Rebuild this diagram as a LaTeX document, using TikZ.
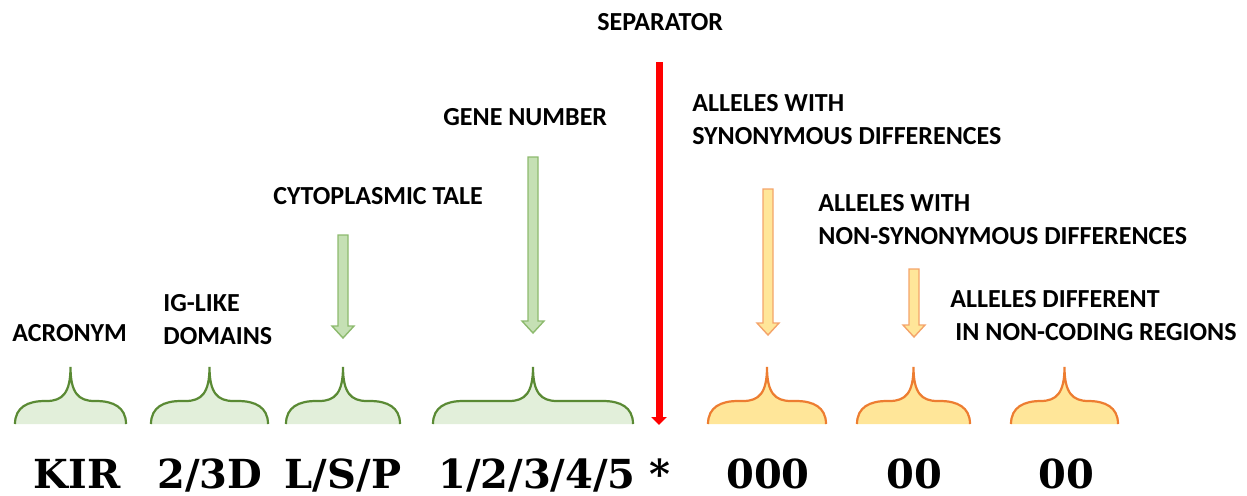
\documentclass[tikz,border=0pt]{standalone}
\usepackage{fontspec}
\setmainfont{Carlito}
\newfontfamily\codefont{DejaVu Serif}
\usepackage{xcolor}
\usetikzlibrary{calc,arrows.meta}

\definecolor{leafline}{HTML}{5A8A34}
\definecolor{leaffill}{HTML}{E2EFDA}
\definecolor{leafarrow}{HTML}{C5E0B4}
\definecolor{leafedge}{HTML}{8DBA6E}
\definecolor{sunline}{HTML}{ED7D31}
\definecolor{sunfill}{HTML}{FFE699}
\definecolor{sunedge}{HTML}{F4A46A}

\tikzset{
  lbl/.style={font=\bfseries\fontsize{13}{16.5}\selectfont, align=left, anchor=west, inner sep=0pt},
  code/.style={font=\codefont\bfseries\fontsize{20}{24}\selectfont, anchor=base, inner sep=0pt},
  leafhump/.style={fill=leaffill, draw=leafline, line width=1.1pt},
  sunhump/.style={fill=sunfill, draw=sunline, line width=1.1pt},
  leafpointer/.style={fill=leafarrow, draw=leafedge, line width=0.7pt, line join=miter},
  sunpointer/.style={fill=sunfill, draw=sunedge, line width=0.7pt, line join=miter},
  pics/hump/.style={code={
    \path[pic actions] (-#1,0) .. controls (-#1,-17) and (-#1+13,-23) .. (-#1+30,-23)
      -- (-24,-23) .. controls (-8,-23) and (0,-31) .. (0,-57)
      .. controls (0,-31) and (8,-23) .. (24,-23)
      -- (#1-30,-23) .. controls (#1-13,-23) and (#1,-17) .. (#1,0);
  }},
}

% block arrow pointing down: style, top, tip
\newcommand{\blockarrow}[3]{%
  \path[#1] let \p1=(#2), \p2=(#3) in
    (\x1-2.5pt,\y1) -- (\x1+2.5pt,\y1) -- (\x1+2.5pt,\y2+6pt) -- (\x1+5.5pt,\y2+6pt)
    -- (\x1,\y2) -- (\x1-5.5pt,\y2+6pt) -- (\x1-2.5pt,\y2+6pt) -- cycle;}

\begin{document}
\begin{tikzpicture}[x=0.5pt,y=-0.5pt]
  \useasboundingbox (0,0) rectangle (1247,495);

  % labels on top
  \node[lbl] (sep) at (597,22) {SEPARATOR};
  \node[lbl] (gene) at (443,117) {GENE NUMBER};
  \node[lbl] (tail) at (273,196) {CYTOPLASMIC TALE};
  \node[lbl] (domains) at (163,320) {IG-LIKE\\DOMAINS};
  \node[lbl] (acronym) at (12,333) {ACRONYM};
  \node[lbl] (syn) at (692,119.5) {ALLELES WITH\\SYNONYMOUS DIFFERENCES};
  \node[lbl] (nonsyn) at (818,219.5) {ALLELES WITH\\NON-SYNONYMOUS DIFFERENCES};
  \node[lbl] (noncod) at (950,316) {ALLELES DIFFERENT\\\hspace{2.5pt}IN NON-CODING REGIONS};

  % braces
  \pic[leafhump] at (70.5,424) {hump=55.5};
  \pic[leafhump] at (209.5,424) {hump=58.5};
  \pic[leafhump] at (343,424) {hump=57};
  \pic[leafhump] at (533,424) {hump=100};
  \pic[sunhump] at (767,424) {hump=59};
  \pic[sunhump] at (913.5,424) {hump=56.5};
  \pic[sunhump] at (1064.5,424) {hump=53.5};

  % arrows
  \coordinate (tail-top) at (343,235);
  \coordinate (tail-tip) at (343,338);
  \coordinate (gene-top) at (533,157);
  \coordinate (gene-tip) at (533,333);
  \coordinate (syn-top) at (768,189);
  \coordinate (syn-tip) at (768,335);
  \coordinate (nonsyn-top) at (914,269);
  \coordinate (nonsyn-tip) at (914,337);
  \coordinate (sep-top) at (659,62);
  \coordinate (sep-tip) at (659,425);
  \blockarrow{leafpointer}{tail-top}{tail-tip}
  \blockarrow{leafpointer}{gene-top}{gene-tip}
  \blockarrow{sunpointer}{syn-top}{syn-tip}
  \blockarrow{sunpointer}{nonsyn-top}{nonsyn-tip}
  \draw[red, line width=3.5pt, -{Triangle[width=7.5pt,length=4pt]}] (sep-top) -- (sep-tip);

  % the name
  \node[code] (kir) at (77,488) {KIR};
  \node[code] (dom) at (210,488) {2/3D};
  \node[code] (lsp) at (343,488) {L/S/P};
  \node[code] (num) at (537,488) {1/2/3/4/5};
  \node[code] (star) at (660,488) {*};
  \node[code] (a3) at (768,488) {000};
  \node[code] (a2) at (914,488) {00};
  \node[code] (a1) at (1066,488) {00};
\end{tikzpicture}
\end{document}
